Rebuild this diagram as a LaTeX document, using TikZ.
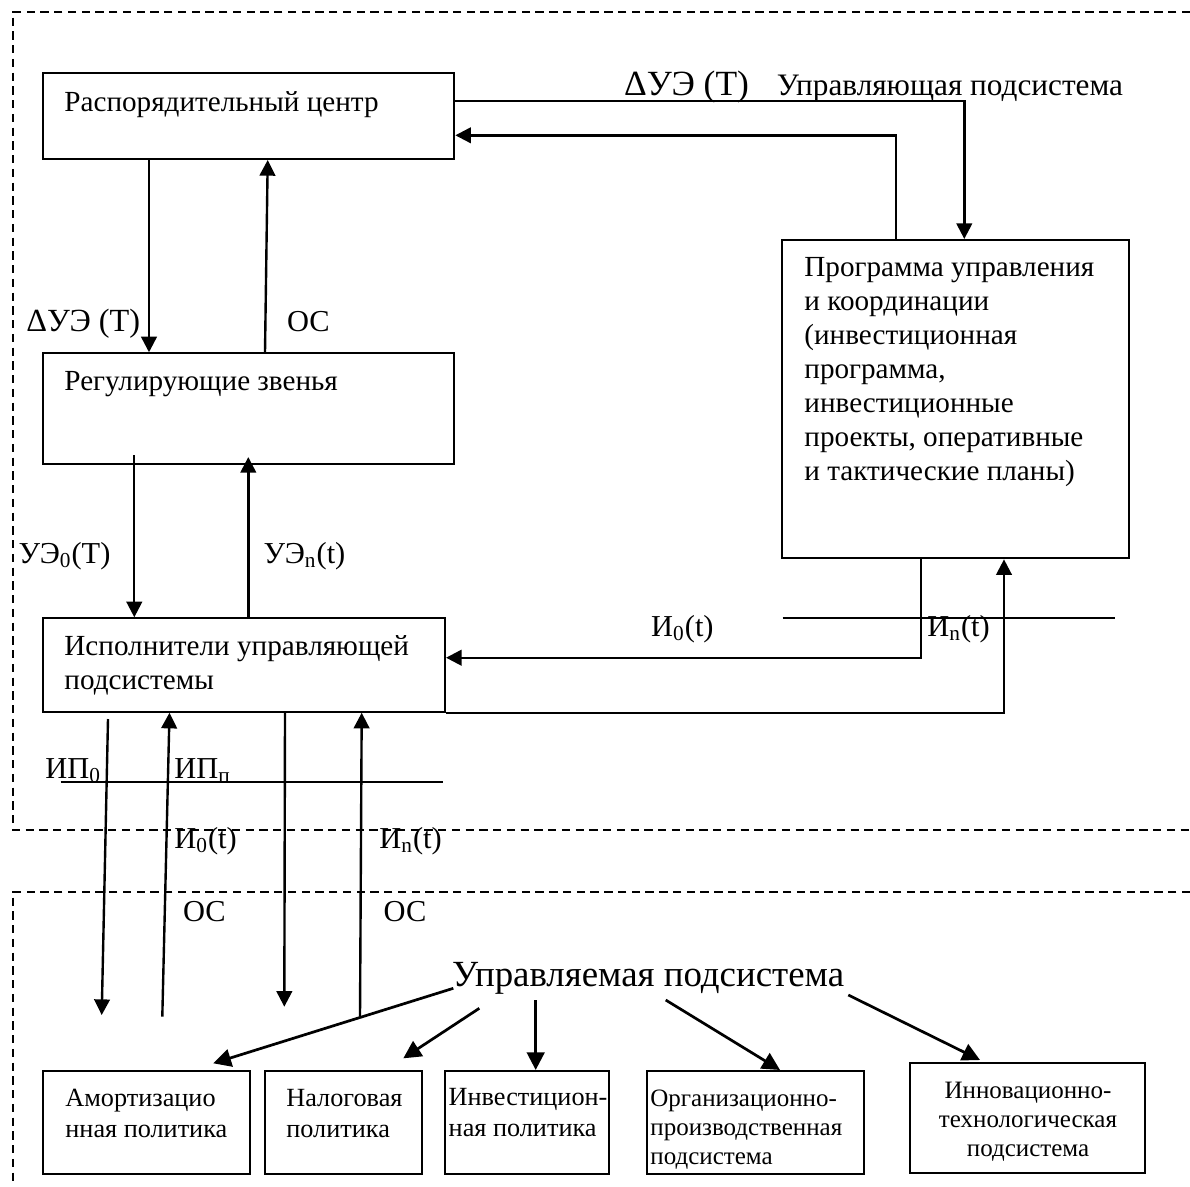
\documentclass[tikz,border=0pt]{standalone}
\usepackage{fontspec}
\setmainfont{Liberation Serif}
\usetikzlibrary{arrows.meta,fit,calc}
\begin{document}
\begin{tikzpicture}[x=0.48pt,y=-0.48pt,
  box/.style={draw, line width=1pt, inner sep=0pt},
  txt/.style={inner sep=0pt, anchor=base west, align=left},
  arr/.style={line width=1.15pt, -{Triangle[length=7.5pt,width=7.5pt]}},
  darr/.style={line width=1.3pt, -{Triangle[length=8.5pt,width=8.5pt]}},
  hl/.style={line width=0.9pt},
  frame/.style={line width=0.8pt, dash pattern=on 4pt off 2.6pt},
  fa/.style={font=\fontsize{14}{16.3}\selectfont},
  fl/.style={font=\fontsize{14.6}{16.8}\selectfont},
  fb/.style={font=\fontsize{12.6}{14.9}\selectfont},
  fs/.style={font=\fontsize{12}{13.9}\selectfont},
]
\useasboundingbox (0,0) rectangle (1190,1186);
\fill[white] (0,0) rectangle (1190,1186);

% frames
\draw[frame] (1190,12) -- (13,12) -- (13,830) -- (1190,830);
\draw[frame] (1190,892) -- (13,892) -- (13,1186);

% boxes
\node[box, fit={(43.3,73.3) (454.3,159)}] (rc) {};
\node[box, fit={(43.3,353.3) (454.3,464)}] (rz) {};
\node[box, fit={(43.3,618.3) (445,711.7)}] (isp) {};
\node[box, fit={(782.3,240) (1129,558.3)}] (prog) {};
\node[box, fit={(43.3,1071) (250,1174)}] (b1) {};
\node[box, fit={(265,1071) (421.7,1174)}] (b2) {};
\node[box, fit={(445,1071) (609.3,1174)}] (b3) {};
\node[box, fit={(647.3,1071) (864,1174)}] (b4) {};
\node[box, fit={(910,1063.3) (1145,1173.3)}] (b5) {};

% box texts (multi-line nodes: base = last line)
\node[txt, fa] (rct) at (64,111.7) {Распорядительный центр};
\node[txt, fa] (rzt) at (64,390.7) {Регулирующие звенья};
\node[txt, fa] (ispt) at (64,689) {Исполнители управляющей\\подсистемы};
\node[txt, fa] (progt) at (804,480.7) {Программа управления\\и координации\\(инвестиционная\\программа,\\инвестиционные\\проекты, оперативные\\и тактические планы)};
\node[txt, fb] (b1t) at (65,1137.7) {Амортизацио\\нная политика};
\node[txt, fb] (b2t) at (286,1137.7) {Налоговая\\политика};
\node[txt, fb] (b3t) at (448.3,1136.5) {Инвестицион-\\ная политика};
\node[txt, fs] (b4t) at (650,1164.7) {Организационно-\\производственная\\подсистема};
\node[txt, fs, anchor=base, align=center] (b5t) at (1028,1156.3) {Инновационно-\\технологическая\\подсистема};

% labels
\node[txt, font=\fontsize{17}{20}\selectfont] (l1) at (623.7,95) {ΔУЭ (Т)};
\node[txt, font=\fontsize{15}{18}\selectfont] (l2) at (776.4,95) {Управляющая подсистема};
\node[txt, font=\fontsize{15.5}{18}\selectfont] (l3) at (26,331.7) {ΔУЭ (Т)};
\node[txt, fl] (l4) at (286.7,331.7) {ОС};
\node[txt, fl] (l5) at (18.3,563.3) {УЭ\textsubscript{0}(Т)};
\node[txt, fl] (l6) at (263.3,563.3) {УЭ\textsubscript{n}(t)};
\node[txt, fl] (l7) at (650.8,636) {И\textsubscript{0}(t)};
\node[txt, fl] (l8) at (927,636) {И\textsubscript{n}(t)};
\node[txt, fl] (l9) at (45,778) {ИП\textsubscript{0}};
\node[txt, fl] (l10) at (174,778) {ИП\textsubscript{п}};
\node[txt, fl] (l11) at (174,848) {И\textsubscript{0}(t)};
\node[txt, fl] (l12) at (379,848) {И\textsubscript{n}(t)};
\node[txt, fl] (l13) at (182.7,921) {ОС};
\node[txt, fl] (l14) at (383.3,921) {ОС};
\node[txt, font=\fontsize{17.7}{21}\selectfont] (up) at (451.7,986.7) {Управляемая подсистема};

% connectors upper part
\draw[arr] (rc.east |- 0,101) -| (prog.north -| 964.3,0);
\draw[arr] (prog.north -| 896,0) |- (rc.east |- 0,135.3);
\draw[arr] (149,0 |- rc.south) -- (149,0 |- rz.north);
\draw[arr] (265,0 |- rz.north) -- (267.7,0 |- rc.south);
\draw[arr] ($(134.3,0 |- rz.south)+(0,-10)$) -- (134.3,0 |- isp.north);
\draw[arr] (248.3,0 |- isp.north) -- ($(248.3,0 |- rz.south)+(0,-8)$);
\draw[arr] (prog.south -| 921,0) |- (isp.east |- 0,657.7);
\draw[arr] (isp.south east) -| (prog.south -| 1004,0);

% horizontal thin lines
\draw[hl] (782.5,618) -- (1114.7,618);
\draw[hl] (60.5,781.7) -- (442.8,781.7);

% lines below executors
\coordinate (e1) at (101.7,1015);
\coordinate (s1) at (108,719);
\coordinate (e2) at (162.3,1016.7);
\coordinate (e3) at (284.3,1006.7);
\coordinate (e4) at (360,1016.7);
\draw[arr] (s1) -- (e1);
\draw[arr] (e2) -- (169.5,0 |- isp.south);
\draw[arr] (285,0 |- isp.south) -- (e3);
\draw[arr] (e4) -- (361.7,0 |- isp.south);

% arrows from controlled subsystem
\coordinate (u1) at (453.3,988.3);
\coordinate (u2) at (479.3,1008.3);
\coordinate (u3) at (535.7,1000);
\coordinate (u4) at (665.7,1000);
\coordinate (u5) at (848.3,995);
\draw[darr] (u1) -- (213.3,1063.3);
\draw[darr] (u2) -- (403.3,1058.3);
\draw[darr] (u3) -- (535.7,0 |- b3.north);
\draw[darr] (u4) -- (780,0 |- b4.north);
\draw[darr] (u5) -- (980,1060);
\end{tikzpicture}
\end{document}
